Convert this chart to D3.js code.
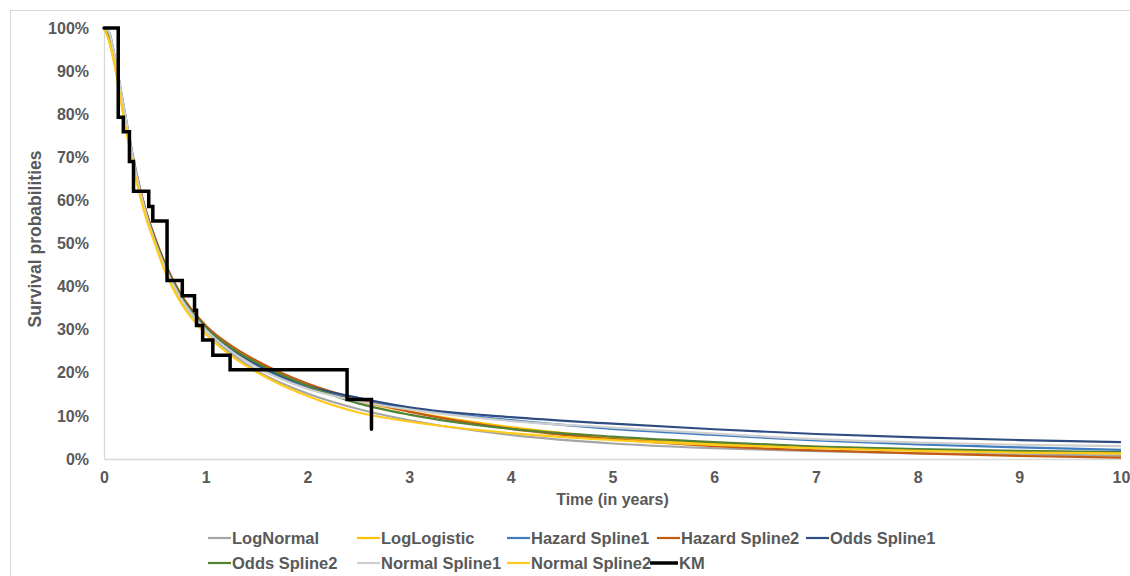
<!DOCTYPE html>
<html><head><meta charset="utf-8">
<script src="https://cdn.jsdelivr.net/npm/d3@7"></script>
<style>
html,body{margin:0;padding:0;background:#fff;}
text{font-family:Arial,"Liberation Sans",sans-serif;}
</style></head>
<body><svg id="chart" width="1130" height="576"></svg>
<script>
// ---- data ----
const times = [0, 0.05, 0.1, 0.2, 0.3, 0.4, 0.5, 0.6, 0.75, 1, 1.25, 1.5, 2, 2.5, 3, 4, 5, 6, 7, 8, 9, 10];
const logNormal     = [100, 99, 94, 81, 68, 58.5, 51, 45, 38, 30, 24.5, 20.5, 15.2, 11.6, 9.0, 5.6, 3.6, 2.5, 1.8, 1.3, 1.0, 0.8];
const logLogistic   = [100, 97, 92, 79, 67, 57.5, 50.5, 44.5, 37.5, 30.5, 25.8, 22.2, 17.0, 13.4, 11.0, 7.4, 5.0, 3.7, 2.8, 2.1, 1.6, 1.3];
const hazardSpline1 = [100, 99, 94, 81, 68.5, 58.5, 51, 45, 37.5, 30, 25, 21.5, 16.5, 13.7, 11.8, 9.0, 7.0, 5.6, 4.3, 3.4, 2.7, 2.1];
const hazardSpline2 = [100, 98, 93, 80.5, 68, 58.5, 51.5, 45.5, 38.5, 31, 26.3, 22.8, 17.5, 13.8, 11.0, 7.0, 4.6, 3.0, 2.0, 1.3, 0.7, 0.3];
const oddsSpline1   = [100, 98, 93, 80, 67.5, 58, 51, 45, 38, 30.5, 25.5, 22, 17.0, 14.2, 12.0, 9.7, 8.2, 6.9, 5.8, 5.0, 4.4, 3.9];
const oddsSpline2   = [100, 98, 93, 80, 67.5, 58, 51, 45, 38, 30.5, 25.8, 22.3, 17.0, 12.9, 10.3, 7.0, 5.2, 3.9, 2.9, 2.3, 1.9, 1.6];
const normalSpline1 = [100, 99, 94, 81, 68, 58, 50.5, 44.5, 37.5, 30, 25, 21.3, 16.3, 13.4, 11.5, 8.8, 7.3, 5.9, 4.6, 3.8, 3.3, 3.0];
const normalSpline2 = [100, 97, 92, 78.5, 66.5, 57, 50, 43.5, 36.5, 29, 24, 20.2, 14.6, 10.8, 8.7, 6.0, 4.4, 3.3, 2.5, 1.9, 1.5, 1.3];
const kmTimes  = [0, 0.14, 0.19, 0.25, 0.29, 0.44, 0.48, 0.62, 0.77, 0.89, 0.91, 0.97, 1.07, 1.24, 2.39, 2.63];
const kmValues = [100, 79.3, 75.9, 69.0, 62.1, 58.6, 55.2, 41.4, 37.9, 34.5, 31.0, 27.6, 24.1, 20.7, 13.8, 6.9];
const seriesNames  = ["LogNormal","LogLogistic","Hazard Spline1","Hazard Spline2","Odds Spline1","Odds Spline2","Normal Spline1","Normal Spline2","KM"];
const seriesColors = ["#A5A5A5","#FFC000","#3F7DC0","#C55A11","#2F4D80","#548235","#CFCFCF","#FFCA1A","#000000"];
const xTicks = [0,1,2,3,4,5,6,7,8,9,10];
const yTicks = [0,10,20,30,40,50,60,70,80,90,100];

// ---- layout ----
const svg = d3.select("#chart");
const x = d3.scaleLinear().domain([0,10]).range([104,1121]);
const y = d3.scaleLinear().domain([0,100]).range([459,28]);
const textCol = "#595959";

svg.append("rect").attr("x",10.5).attr("y",10.5).attr("width",1140).attr("height",600)
  .attr("fill","#fff").attr("stroke","#D9D9D9").attr("stroke-width",1);

// axes
const xAxis = d3.axisBottom(x).tickValues(xTicks).tickSize(0).tickPadding(10).tickFormat(d3.format("d"));
const gx = svg.append("g").attr("transform",`translate(0,${y(0)})`).call(xAxis);
const yAxis = d3.axisLeft(y).tickValues(yTicks).tickSize(0).tickPadding(15).tickFormat(d=>d+"%");
const gy = svg.append("g").attr("transform",`translate(${x(0)},0)`).call(yAxis);
[gx,gy].forEach(g=>{
  g.select(".domain").attr("stroke","#D9D9D9").attr("stroke-width",1.3);
  g.selectAll("text").attr("fill",textCol).attr("font-size",16).attr("font-weight","bold")
   .attr("font-family","Arial, 'Liberation Sans', sans-serif");
});
gx.selectAll("text").attr("dy","0.9em");

svg.append("text").attr("x",(x(0)+x(10))/2).attr("y",505).attr("text-anchor","middle")
  .attr("fill",textCol).attr("font-size",16).attr("font-weight","bold").text("Time (in years)");
svg.append("text").attr("transform",`translate(41,239) rotate(-90)`).attr("text-anchor","middle")
  .attr("fill",textCol).attr("font-size",17.5).attr("font-weight","bold").text("Survival probabilities");

// curves
const curveData = [logNormal, logLogistic, hazardSpline1, hazardSpline2, oddsSpline1, oddsSpline2, normalSpline1, normalSpline2];
const line = d3.line().x(d=>x(d[0])).y(d=>y(d[1])).curve(d3.curveMonotoneX);
curveData.forEach((vals,i)=>{
  svg.append("path").datum(times.map((t,j)=>[t,vals[j]]))
    .attr("d",line).attr("fill","none").attr("stroke",seriesColors[i]).attr("stroke-width",2.2);
});
const kmLine = d3.line().x(d=>x(d[0])).y(d=>y(d[1])).curve(d3.curveStepAfter);
svg.append("path").datum(kmTimes.map((t,j)=>[t,kmValues[j]]))
  .attr("d",kmLine).attr("fill","none").attr("stroke","#000").attr("stroke-width",3.5)
  .attr("stroke-linecap","round").attr("stroke-linejoin","miter");

// legend
const legendPos = [[208,538],[357,538],[507,538],[657,538],[806,538],[208,563],[357,563],[507,563],[650,563]];
seriesNames.forEach((name,i)=>{
  const [lx,ly] = legendPos[i];
  const w = i===8 ? 28 : 23;
  svg.append("line").attr("x1",lx).attr("x2",lx+w).attr("y1",ly).attr("y2",ly)
    .attr("stroke",seriesColors[i]).attr("stroke-width", i===8 ? 3.5 : 2.2);
  svg.append("text").attr("x",lx+w+1).attr("y",ly).attr("dy","0.35em")
    .attr("fill",textCol).attr("font-size",16.5).attr("font-weight","bold").text(name);
});
</script></body></html>
